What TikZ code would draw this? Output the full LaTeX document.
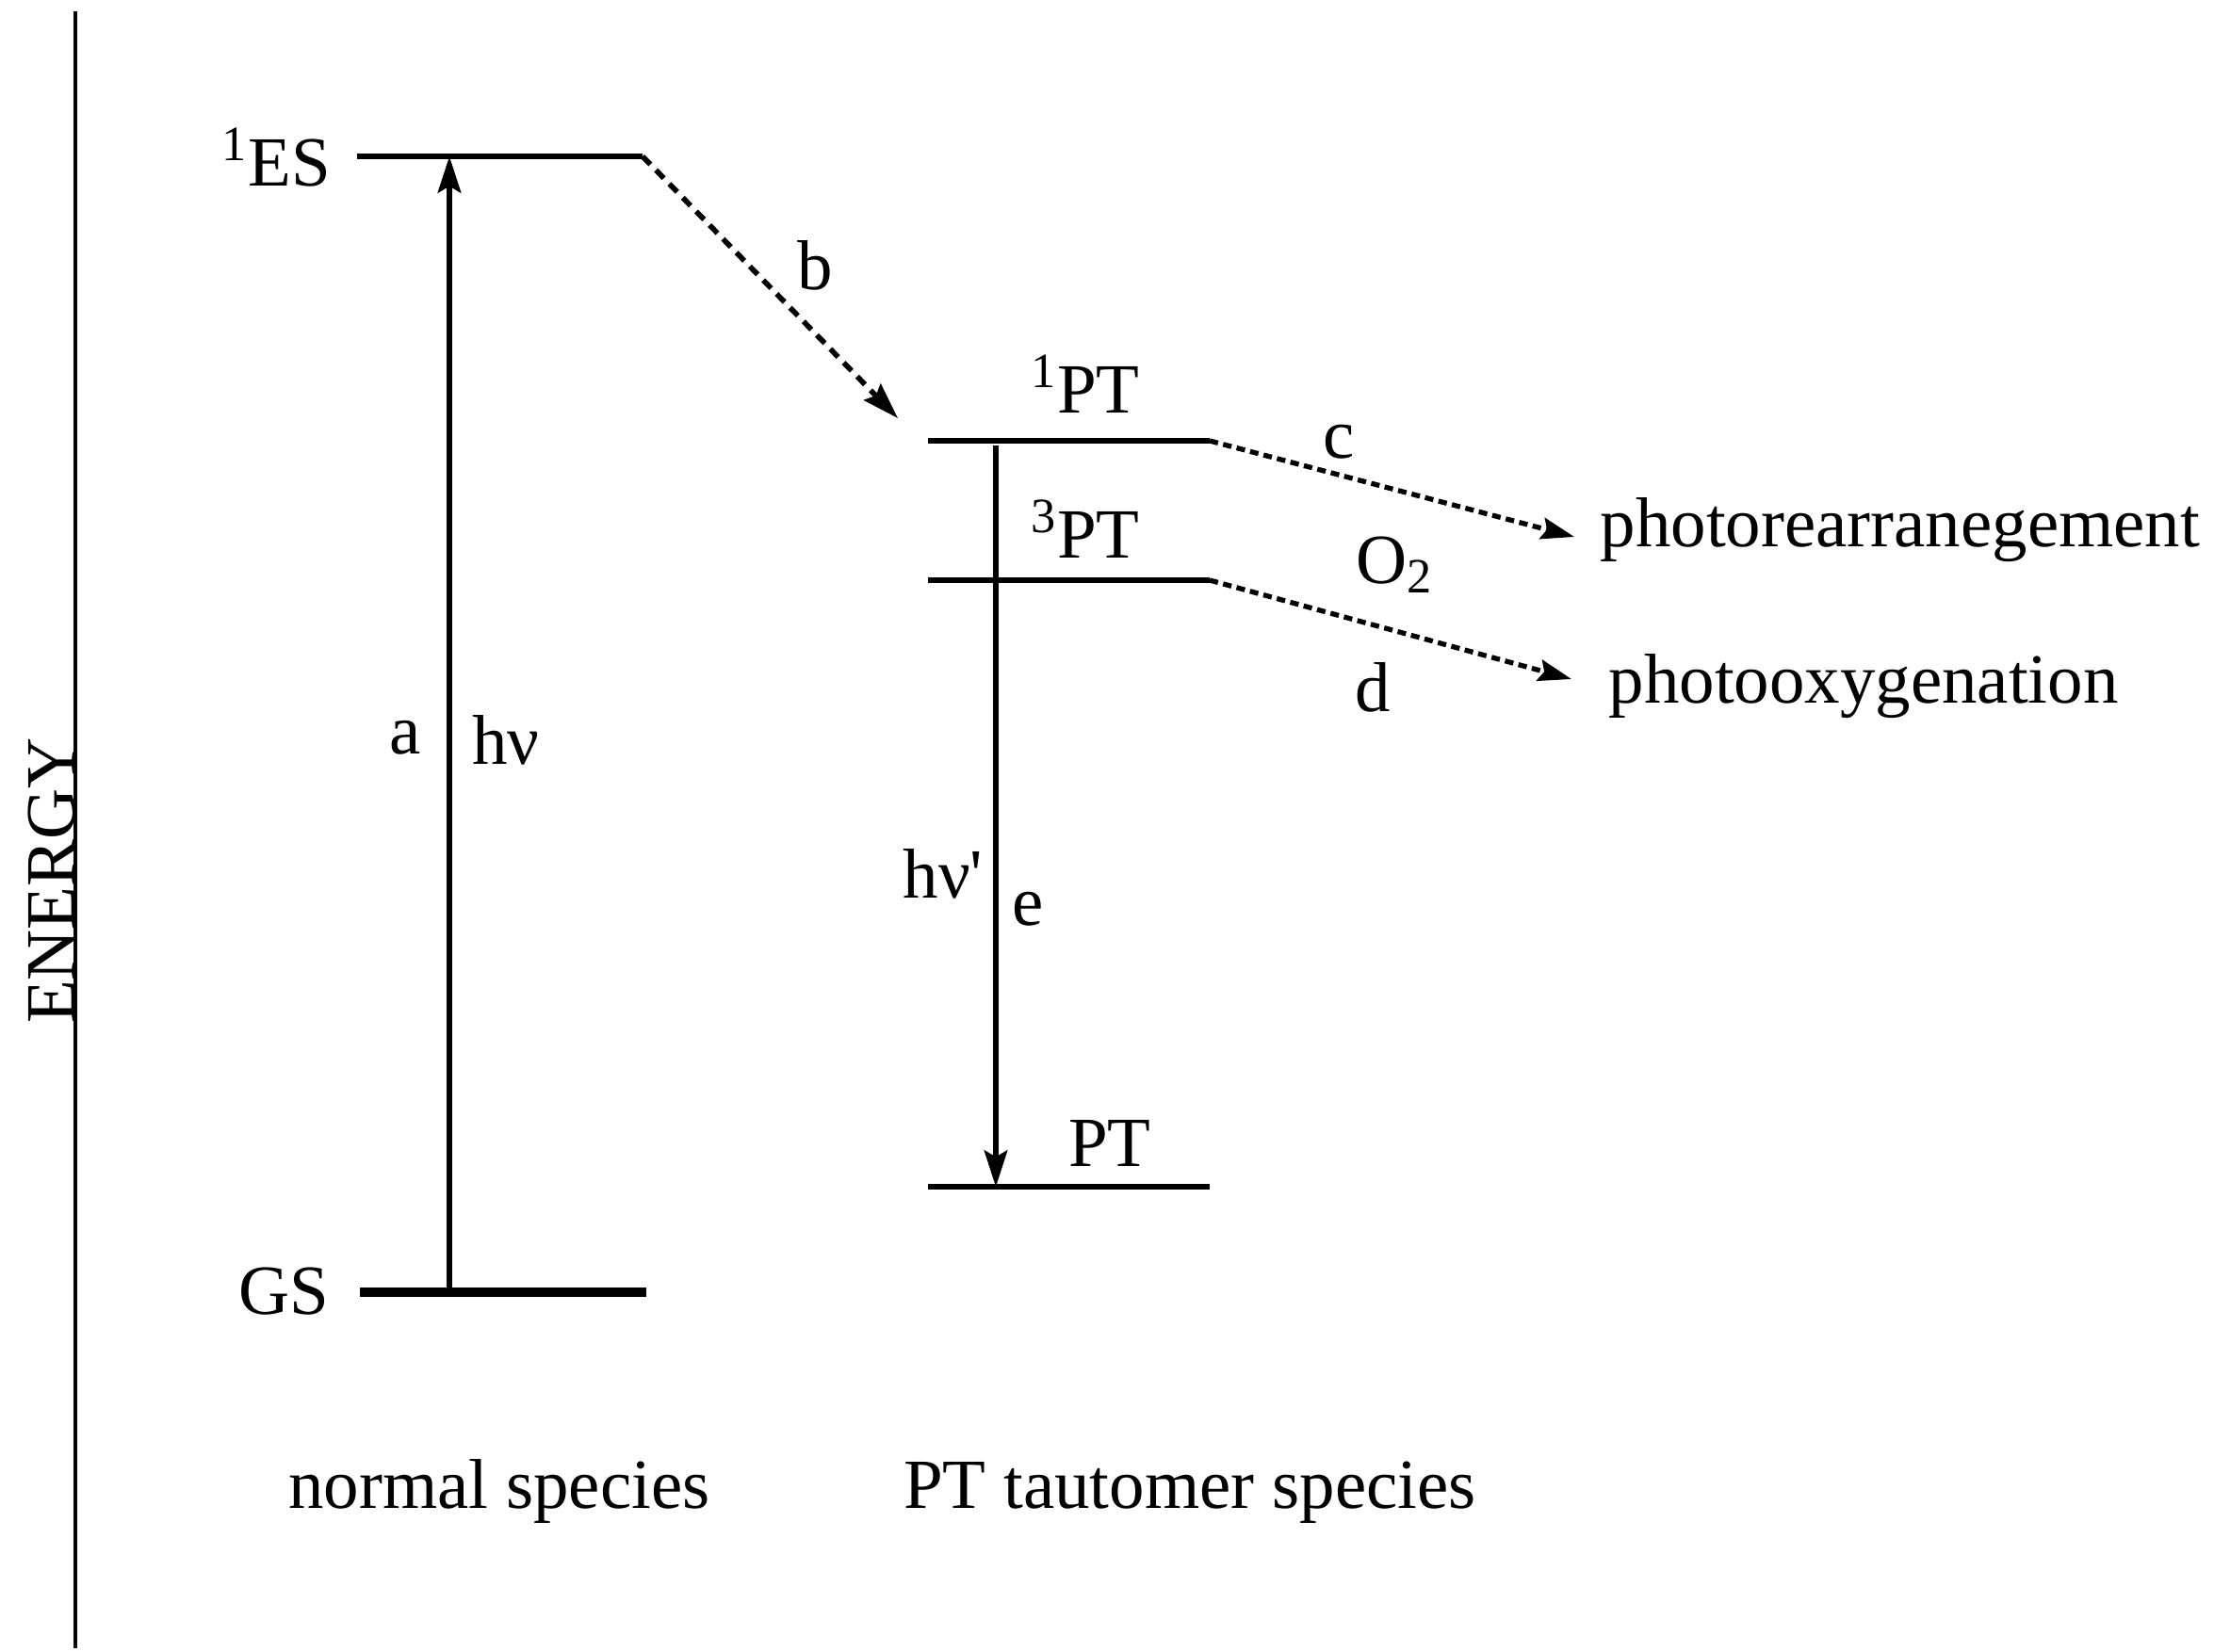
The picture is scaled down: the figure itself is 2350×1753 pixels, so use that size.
\documentclass[tikz,border=0pt]{standalone}
\usepackage{fontspec}
\setmainfont{Liberation Serif}
\usetikzlibrary{arrows.meta}
\newcommand{\straightquote}{\XeTeXglyph\XeTeXcharglyph"0027\relax}
\begin{document}
\begin{tikzpicture}[x=0.01cm,y=-0.01cm,
  lvl/.style={line width=1.8pt},
  gslvl/.style={line width=3.1pt},
  axisline/.style={line width=1.4pt},
  uarr/.style={line width=1.5pt,-{Stealth[length=11pt,width=7pt,inset=2pt]}},
  darrb/.style={line width=1.6pt,dash pattern=on 3.4pt off 2.4pt,-{Stealth[length=11pt,width=7pt,inset=1.5pt]}},
  darr/.style={line width=1.5pt,dash pattern=on 2.6pt off 1.6pt,-{Stealth[length=10pt,width=6.5pt,inset=1.5pt]}},
  lbl/.style={font=\fontsize{21.3pt}{24pt}\selectfont,inner sep=0pt}]
\useasboundingbox (0,0) rectangle (2350,1753);
% energy axis
\coordinate (axT) at (80,12);
\coordinate (axB) at (80,1750);
\draw[axisline] (axT) -- (axB);
\node[lbl,rotate=90,anchor=base] (energy) at (79,935) {ENERGY};
% level coordinates
\coordinate (ESl) at (379,166);  \coordinate (ESr) at (682,166);
\coordinate (GSl) at (382,1372); \coordinate (GSr) at (686,1372);
\coordinate (PT1l) at (985,468); \coordinate (PT1r) at (1284,468);
\coordinate (PT3l) at (985,616); \coordinate (PT3r) at (1284,616);
\coordinate (PTl) at (985,1260); \coordinate (PTr) at (1284,1260);
\draw[lvl] (ESl) -- (ESr);
\draw[gslvl] (GSl) -- (GSr);
\draw[lvl] (PT1l) -- (PT1r);
\draw[lvl] (PT3l) -- (PT3r);
\draw[lvl] (PTl) -- (PTr);
% level labels
\node[lbl,anchor=base east] (esl) at (352,197) {\textsuperscript{1}ES};
\node[lbl,anchor=base east] (gsl) at (350,1395) {GS};
\node[lbl,anchor=base] (pt1) at (1152,438) {\textsuperscript{1}PT};
\node[lbl,anchor=base] (pt3) at (1152,592) {\textsuperscript{3}PT};
\node[lbl,anchor=base] (pt0) at (1178,1238) {PT};
% absorption arrow a
\coordinate (aS) at (477,1372);
\coordinate (aE) at (477,166);
\draw[uarr] (aS) -- (aE);
\node[lbl,anchor=base] (la) at (430,800) {a};
\node[lbl,anchor=base] (lhv) at (537,811) {hν};
% emission arrow e
\coordinate (eS) at (1057,473);
\coordinate (eE) at (1057,1260);
\draw[uarr] (eS) -- (eE);
\node[lbl,anchor=base] (lhv2) at (1001,953) {hν\straightquote};
\node[lbl,anchor=base] (le) at (1091,982) {e};
% proton transfer b
\coordinate (bE) at (953,444);
\draw[darrb] (ESr) -- (bE);
\node[lbl,anchor=base] (lb) at (865,307) {b};
% products
\node[lbl,anchor=base west] (prod1) at (1698,580) {photorearranegement};
\node[lbl,anchor=base west] (prod2) at (1707,746) {photooxygenation};
\coordinate (cE) at (1671,570);
\coordinate (dE) at (1668,721);
\draw[darr] (PT1r) -- (cE);
\draw[darr] (PT3r) -- (dE);
\node[lbl,anchor=base] (lc) at (1421,486) {c};
\node[lbl,anchor=base west] (lo2) at (1439,619) {O\textsubscript{2}};
\node[lbl,anchor=base] (ld) at (1457,755) {d};
% species captions
\node[lbl,anchor=base] (normal) at (530,1601) {normal species};
\node[lbl,anchor=base] (taut) at (1263,1601) {PT tautomer species};
\end{tikzpicture}
\end{document}
